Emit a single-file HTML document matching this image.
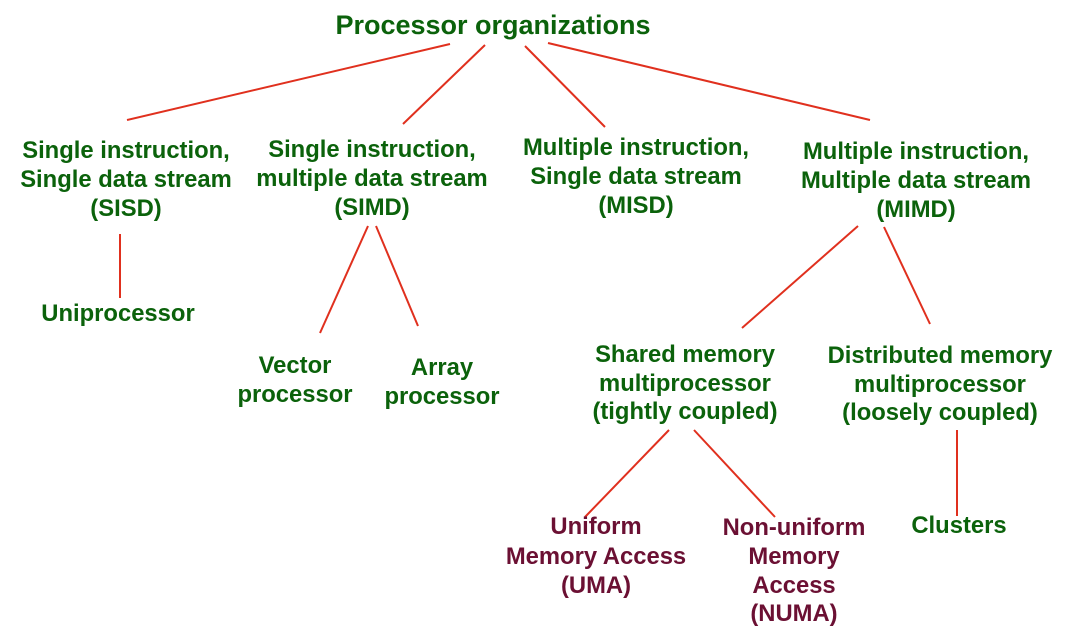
<!DOCTYPE html>
<html><head><meta charset="utf-8"><style>
html,body{margin:0;padding:0;background:#fff;}
svg{display:block;}
text{font-family:"Liberation Sans",sans-serif;font-weight:bold;text-anchor:middle;}
.g{fill:#0b620b;font-size:23.8px;}
.m{fill:#6b1033;font-size:23.8px;}
line{stroke:#e0301e;stroke-width:2;}
</style></head><body>
<svg width="1067" height="644" viewBox="0 0 1067 644">
<text x="493" y="34" class="g" style="font-size:27px">Processor organizations</text>
<line x1="450" y1="44" x2="127" y2="120"/>
<line x1="485" y1="45" x2="403" y2="124"/>
<line x1="525" y1="46" x2="605" y2="127"/>
<line x1="548" y1="43" x2="870" y2="120"/>
<line x1="120" y1="234" x2="120" y2="298"/>
<line x1="368" y1="226" x2="320" y2="333"/>
<line x1="376" y1="226" x2="418" y2="326"/>
<line x1="858" y1="226" x2="742" y2="328"/>
<line x1="884" y1="227" x2="930" y2="324"/>
<line x1="669" y1="430" x2="585" y2="517"/>
<line x1="694" y1="430" x2="775" y2="517"/>
<line x1="957" y1="430" x2="957" y2="516"/>

<text class="g" x="126" y="158">Single instruction,</text>
<text class="g" x="126" y="187">Single data stream</text>
<text class="g" x="126" y="216">(SISD)</text>

<text class="g" x="372" y="157">Single instruction,</text>
<text class="g" x="372" y="186">multiple data stream</text>
<text class="g" x="372" y="215">(SIMD)</text>

<text class="g" x="636" y="155">Multiple instruction,</text>
<text class="g" x="636" y="184">Single data stream</text>
<text class="g" x="636" y="213">(MISD)</text>

<text class="g" x="916" y="159">Multiple instruction,</text>
<text class="g" x="916" y="188">Multiple data stream</text>
<text class="g" x="916" y="217">(MIMD)</text>

<text class="g" x="118" y="321">Uniprocessor</text>

<text class="g" x="295" y="373">Vector</text>
<text class="g" x="295" y="402">processor</text>
<text class="g" x="442" y="375">Array</text>
<text class="g" x="442" y="404">processor</text>

<text class="g" x="685" y="362">Shared memory</text>
<text class="g" x="685" y="391">multiprocessor</text>
<text class="g" x="685" y="419">(tightly coupled)</text>

<text class="g" x="940" y="363">Distributed memory</text>
<text class="g" x="940" y="392">multiprocessor</text>
<text class="g" x="940" y="420">(loosely coupled)</text>

<text class="m" x="596" y="534">Uniform</text>
<text class="m" x="596" y="564">Memory Access</text>
<text class="m" x="596" y="593">(UMA)</text>

<text class="m" x="794" y="535">Non-uniform</text>
<text class="m" x="794" y="564">Memory</text>
<text class="m" x="794" y="593">Access</text>
<text class="m" x="794" y="621">(NUMA)</text>

<text class="g" x="959" y="533">Clusters</text>
</svg>
</body></html>
